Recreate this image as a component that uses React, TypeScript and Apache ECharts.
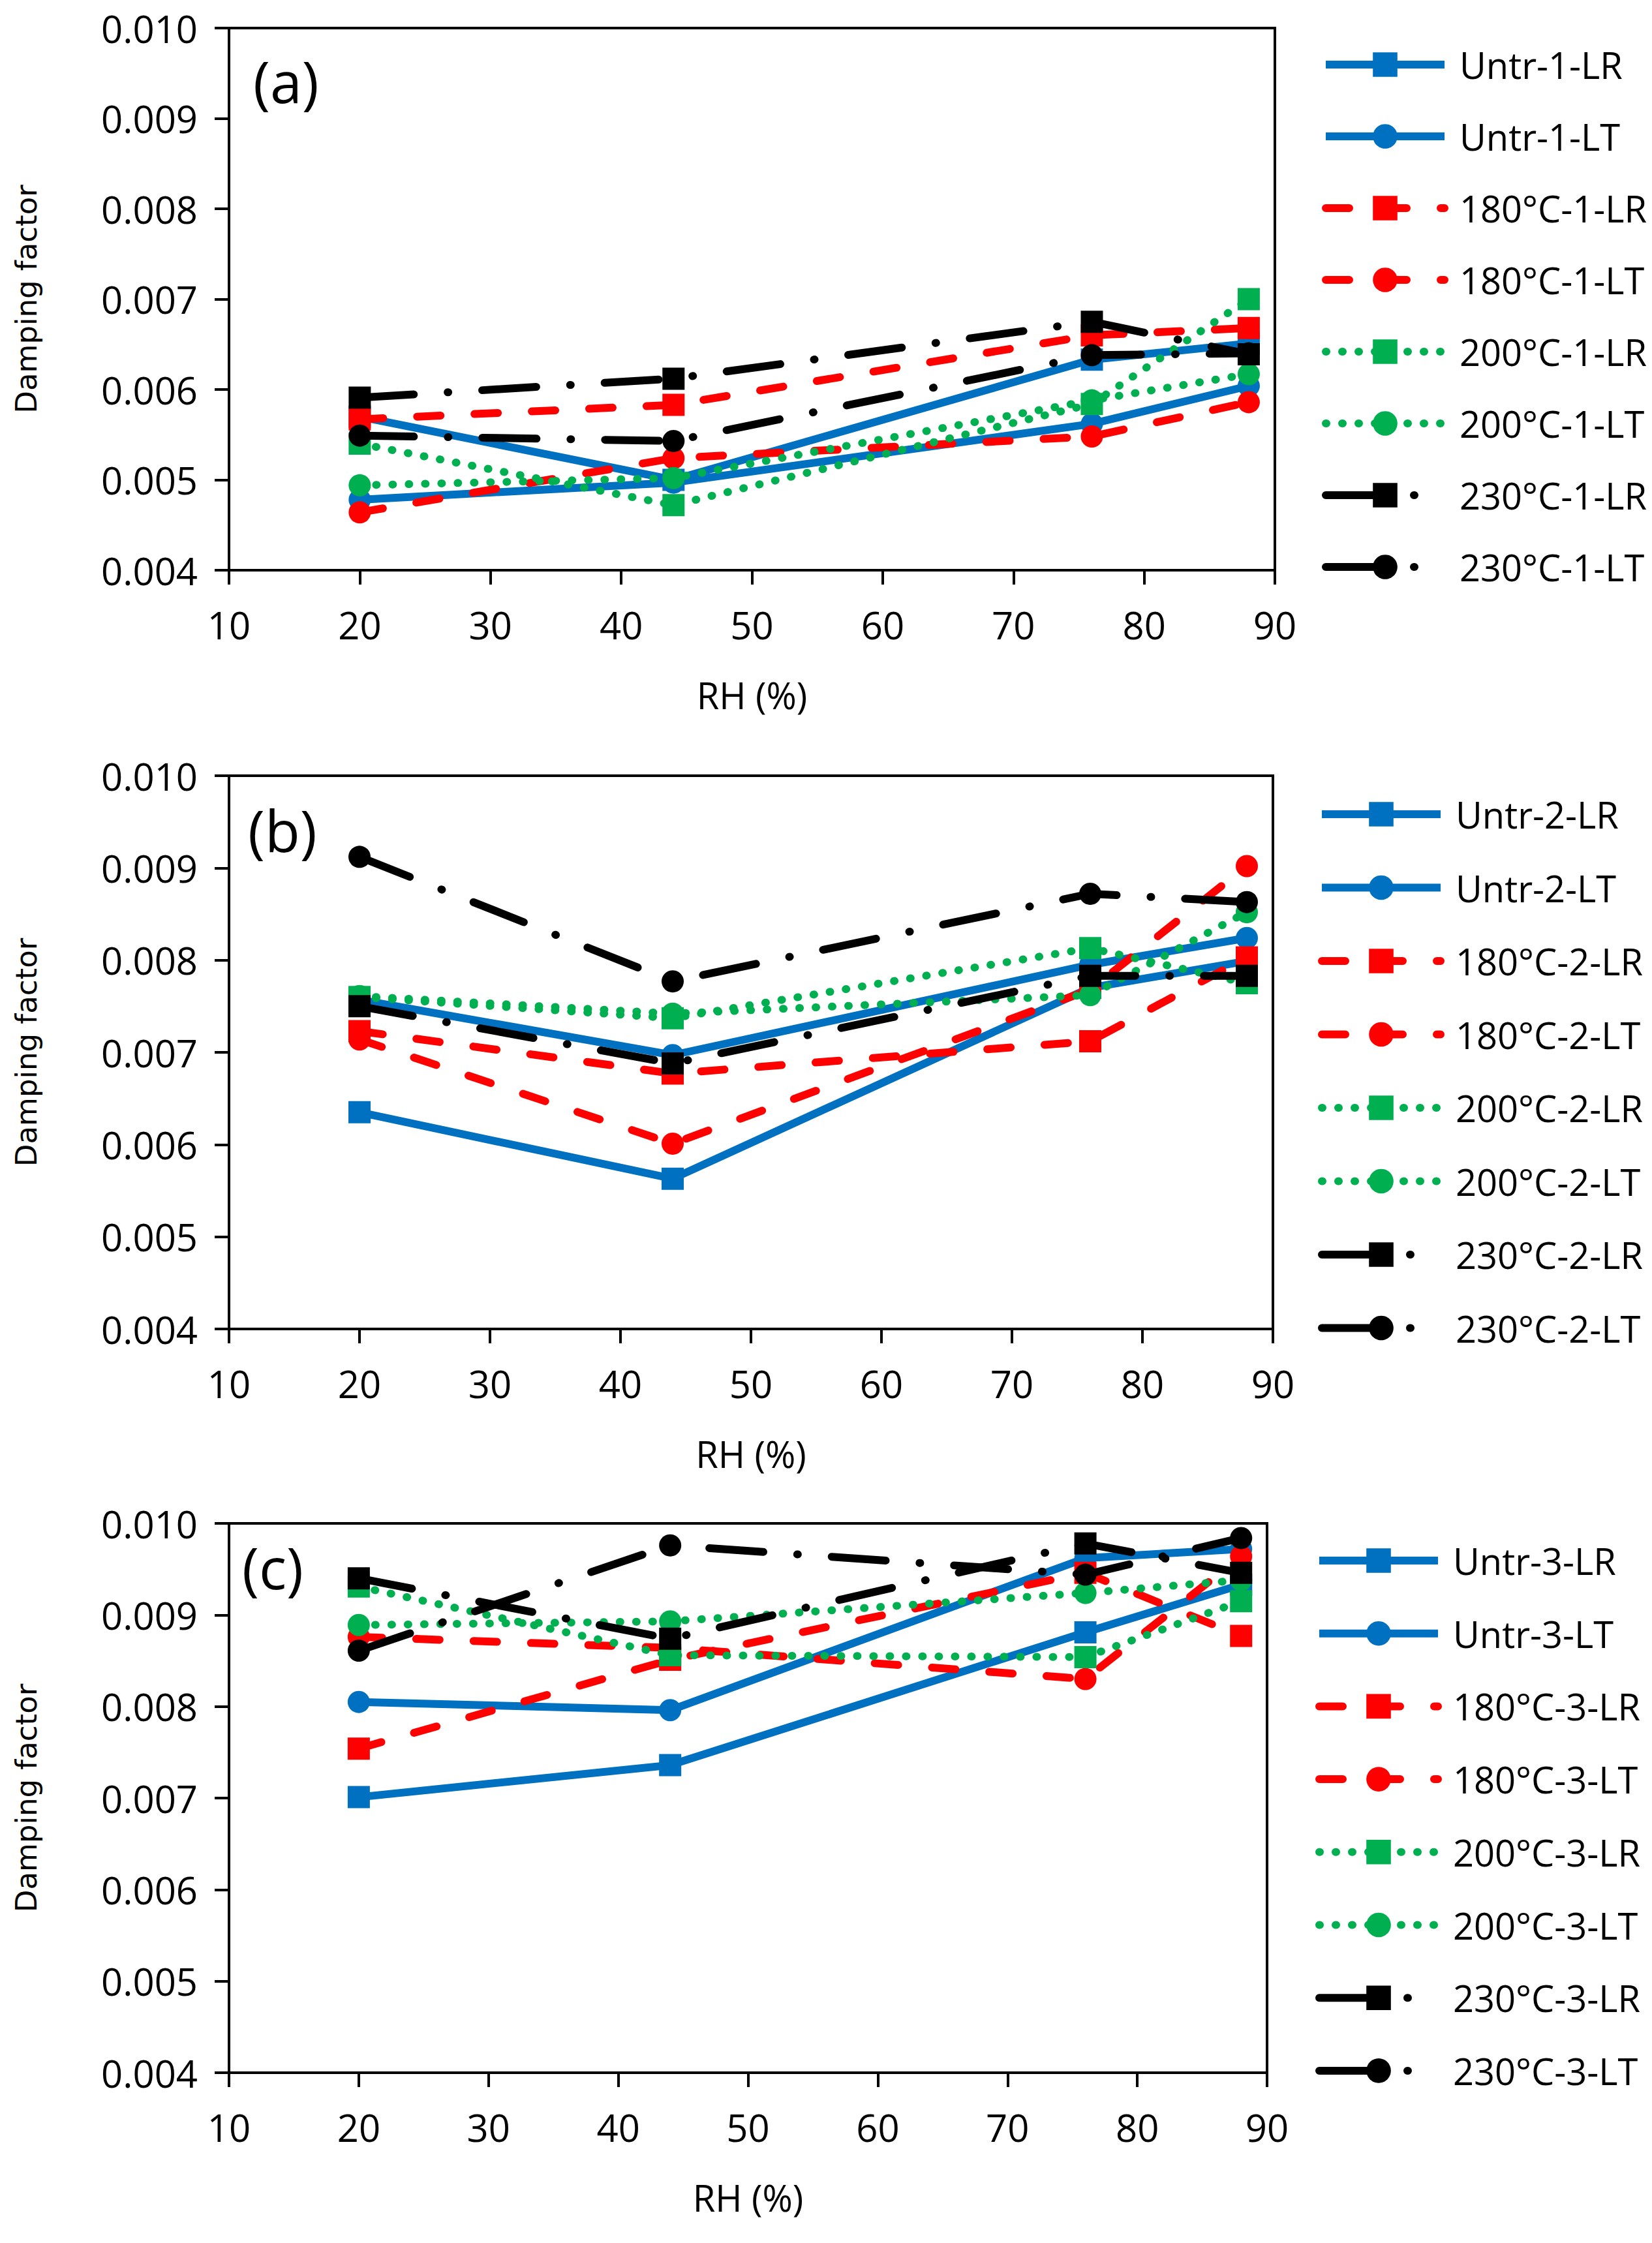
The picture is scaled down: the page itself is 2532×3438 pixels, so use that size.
import React, { useEffect, useRef } from "react";
import * as echarts from "echarts";

// ---------- data ----------
const rh = [20, 44, 76, 88];
const yTicks = [0.004, 0.005, 0.006, 0.007, 0.008, 0.009, 0.01];
const xTicks = [10, 20, 30, 40, 50, 60, 70, 80, 90];

// panel (a)
const untr1LR = [0.0057, 0.005, 0.00633, 0.00651];
const untr1LT = [0.00478, 0.00497, 0.00562, 0.00604];
const t180_1LR = [0.00567, 0.00583, 0.0066, 0.00668];
const t180_1LT = [0.00464, 0.00524, 0.00548, 0.00586];
const t200_1LR = [0.0054, 0.00472, 0.00584, 0.007];
const t200_1LT = [0.00494, 0.00502, 0.00588, 0.00617];
const t230_1LR = [0.00591, 0.00612, 0.00675, 0.00639];
const t230_1LT = [0.00549, 0.00543, 0.00638, 0.0064];

// panel (b)
const untr2LR = [0.00635, 0.00563, 0.0077, 0.00799];
const untr2LT = [0.00757, 0.00697, 0.00795, 0.00824];
const t180_2LR = [0.00723, 0.00677, 0.00712, 0.00803];
const t180_2LT = [0.00714, 0.00601, 0.00768, 0.00902];
const t200_2LR = [0.0076, 0.00737, 0.00813, 0.00775];
const t200_2LT = [0.00761, 0.00742, 0.00762, 0.00852];
const t230_2LR = [0.0075, 0.00688, 0.00783, 0.00783];
const t230_2LT = [0.00912, 0.00777, 0.00872, 0.00863];

// panel (c)
const untr3LR = [0.00701, 0.00736, 0.00881, 0.00933];
const untr3LT = [0.00805, 0.00796, 0.00962, 0.00972];
const t180_3LR = [0.00754, 0.00851, 0.00946, 0.00877];
const t180_3LT = [0.00876, 0.00864, 0.0083, 0.00964];
const t200_3LR = [0.00931, 0.00856, 0.00854, 0.00915];
const t200_3LT = [0.00889, 0.00893, 0.00924, 0.00938];
const t230_3LR = [0.0094, 0.00874, 0.00978, 0.00946];
const t230_3LT = [0.00861, 0.00976, 0.00944, 0.00984];

const panelLabels = ["(a)", "(b)", "(c)"];
const treatments = ["Untr", "180°C", "200°C", "230°C"];
const directions = ["LR", "LT"];

const panelData = [
  [untr1LR, untr1LT, t180_1LR, t180_1LT, t200_1LR, t200_1LT, t230_1LR, t230_1LT],
  [untr2LR, untr2LT, t180_2LR, t180_2LT, t200_2LR, t200_2LT, t230_2LR, t230_2LT],
  [untr3LR, untr3LT, t180_3LR, t180_3LT, t200_3LR, t200_3LT, t230_3LR, t230_3LT],
];

// ---------- styles ----------
const colors = ["#0070C0", "#FF0000", "#00B050", "#000000"];
const dashes: any[] = ["solid", [36, 52], [1, 24], [83, 52, 1, 52]];
const LW = 12;

const grids = [
  { left: 351, top: 43, width: 1603, height: 831 },
  { left: 351, top: 1189, width: 1600, height: 848 },
  { left: 351, top: 2335, width: 1591, height: 842 },
];
const legendPos = [
  { textLeft: 2226, firstRow: 94, spacing: 110 },
  { textLeft: 2220, firstRow: 1243, spacing: 112.5 },
  { textLeft: 2216, firstRow: 2387, spacing: 111.7 },
];
const labelPos = [
  { x: 440, y: 140 },
  { x: 432, y: 1288 },
  { x: 423, y: 2418 },
];

const FONT = "'Open Sans', 'Noto Sans', sans-serif";
const LEG_W = 182;
const LEG_PAD = 18;

export default function App() {
  const ref = useRef<HTMLDivElement>(null);
  useEffect(() => {
    document.body.style.margin = "0";
    if (!ref.current) return;
    const chart = echarts.init(ref.current, undefined, { renderer: "svg" });

    const xAxis: any[] = [];
    const yAxis: any[] = [];
    const series: any[] = [];
    const legend: any[] = [];
    const graphic: any[] = [];

    grids.forEach((g, p) => {
      xAxis.push({
        type: "value",
        gridIndex: p,
        min: xTicks[0],
        max: xTicks[xTicks.length - 1],
        interval: 10,
        name: "RH (%)",
        nameLocation: "middle",
        nameGap: 163,
        nameTextStyle: { fontFamily: FONT, fontSize: 56, color: "#000" },
        axisLine: { show: true, onZero: false, lineStyle: { color: "#000", width: 4 } },
        axisTick: { show: true, inside: false, length: 22, lineStyle: { color: "#000", width: 4 } },
        axisLabel: { fontFamily: FONT, fontSize: 58, color: "#000", margin: 54 },
        splitLine: { show: false },
      });
      yAxis.push({
        type: "value",
        gridIndex: p,
        min: yTicks[0],
        max: yTicks[yTicks.length - 1],
        interval: 0.001,
        name: "Damping factor",
        nameLocation: "middle",
        nameRotate: 90,
        nameGap: 288,
        nameTextStyle: { fontFamily: "'DejaVu Sans', sans-serif", fontSize: 45, color: "#000" },
        axisLine: { show: true, onZero: false, lineStyle: { color: "#000", width: 4 } },
        axisTick: { show: true, inside: false, length: 22, lineStyle: { color: "#000", width: 4 } },
        axisLabel: {
          fontFamily: FONT,
          fontSize: 58,
          color: "#000",
          margin: 48,
          formatter: (v: number) => v.toFixed(3),
        },
        splitLine: { show: false },
      });

      const names: string[] = [];
      treatments.forEach((t, ti) => {
        directions.forEach((d, di) => {
          const name = `${t}-${p + 1}-${d}`;
          names.push(name);
          const vals = panelData[p][ti * 2 + di];
          series.push({
            type: "line",
            name,
            xAxisIndex: p,
            yAxisIndex: p,
            data: rh.map((x, i) => [x, vals[i]]),
            symbol: di === 0 ? "rect" : "circle",
            symbolSize: 34,
            showSymbol: true,
            itemStyle: { color: colors[ti], borderWidth: 0 },
            lineStyle: {
              color: colors[ti],
              width: LW,
              type: dashes[ti],
              cap: ti === 0 ? "butt" : "round",
            },
            emphasis: { disabled: true },
            z: 2 + ti * 2 + di,
          });
        });
      });

      const lp = legendPos[p];
      const rowH = 56;
      legend.push({
        orient: "vertical",
        left: lp.textLeft - LEG_W - 5 - LEG_PAD,
        top: lp.firstRow - rowH / 2,
        itemWidth: LEG_W,
        itemHeight: 47,
        itemGap: lp.spacing - rowH,
        selectedMode: false,
        data: names,
        lineStyle: { width: LW },
        textStyle: {
          fontFamily: FONT,
          fontSize: 56,
          color: "#000",
          lineHeight: rowH,
          padding: [0, 0, 0, LEG_PAD],
        },
      });

      graphic.push({
        type: "text",
        left: labelPos[p].x - 52,
        top: labelPos[p].y - 60,
        style: {
          text: panelLabels[p],
          fontFamily: FONT,
          fontSize: 88,
          fill: "#000",
        },
      });
    });

    chart.setOption({
      animation: false,
      backgroundColor: "#fff",
      grid: grids.map((g) => ({
        ...g,
        show: true,
        borderColor: "#000",
        borderWidth: 4,
        backgroundColor: "transparent",
        containLabel: false,
      })),
      xAxis,
      yAxis,
      legend,
      series,
      graphic,
    });
    return () => chart.dispose();
  }, []);
  return <div ref={ref} style={{ width: 2532, height: 3438 }} />;
}
